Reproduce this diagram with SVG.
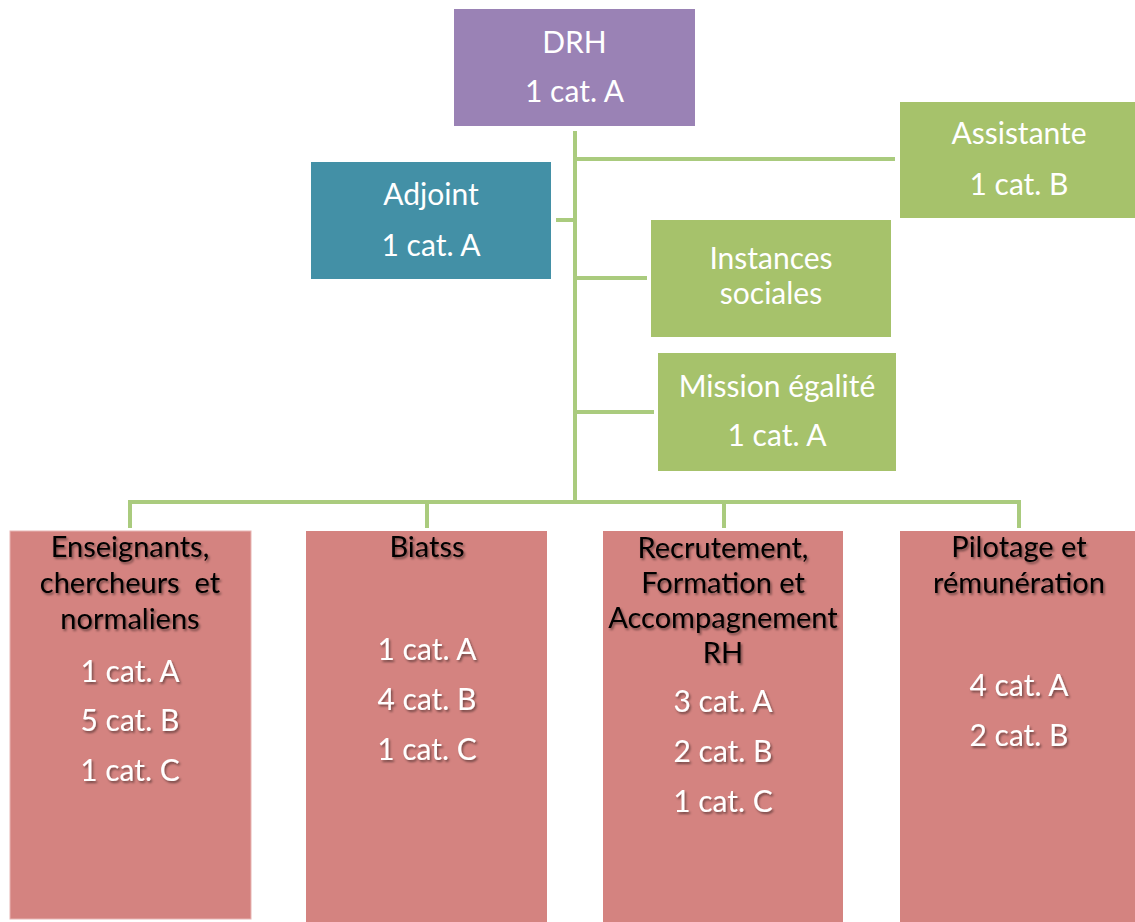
<svg xmlns="http://www.w3.org/2000/svg" width="1135" height="922" viewBox="0 0 1135 922">
<defs>
<filter id="sh" x="-10%" y="-30%" width="130%" height="170%">
<feDropShadow dx="1.5" dy="2" stdDeviation="1.2" flood-color="#000" flood-opacity="0.45"/>
</filter>
</defs>
<style>
text{font-family:"Lato","Open Sans","Liberation Sans",sans-serif;font-size:30px;text-anchor:middle}
.w{fill:#ffffff}
.b{fill:#000000;filter:url(#sh);font-size:29px}
.ws{fill:#ffffff;filter:url(#sh)}
.purple{fill:#9a82b5}
.teal{fill:#4390a6}
.green{fill:#a6c26b}
.red{fill:#d48380}
.conn{stroke:#aacb7e;stroke-width:4;fill:none}
</style>
<rect width="1135" height="922" fill="#ffffff"/>
<g id="connectors" class="conn">
<line x1="575" y1="131" x2="575" y2="504"/>
<line x1="575" y1="159" x2="895" y2="159"/>
<line x1="556" y1="220" x2="575" y2="220"/>
<line x1="575" y1="278" x2="647" y2="278"/>
<line x1="575" y1="412" x2="654" y2="412"/>
<polyline points="130,528 130,502 1019,502 1019,528"/>
<line x1="427" y1="502" x2="427" y2="528"/>
<line x1="724" y1="502" x2="724" y2="528"/>
</g>
<g id="drh">
<rect class="purple" x="454" y="9" width="241" height="117"/>
<text class="w" x="574.5" y="53">DRH</text>
<text class="w" x="574.5" y="102">1 cat. A</text>
</g>
<g id="adjoint">
<rect class="teal" x="311" y="162" width="240" height="117"/>
<text class="w" x="431" y="205">Adjoint</text>
<text class="w" x="431" y="256">1 cat. A</text>
</g>
<g id="assistante">
<rect class="green" x="900" y="102" width="235" height="116"/>
<text class="w" x="1019" y="144">Assistante</text>
<text class="w" x="1019" y="195">1 cat. B</text>
</g>
<g id="instances">
<rect class="green" x="651" y="220" width="240" height="117"/>
<text class="w" x="771" y="269">Instances</text>
<text class="w" x="771" y="304">sociales</text>
</g>
<g id="mission">
<rect class="green" x="658" y="353" width="238" height="118"/>
<text class="w" x="777" y="397">Mission égalité</text>
<text class="w" x="777" y="446">1 cat. A</text>
</g>
<g id="enseignants">
<rect class="red" x="10" y="531" width="241" height="388" stroke="#e8b5b3" stroke-width="1"/>
<text class="b" x="130" y="557">Enseignants,</text>
<text class="b" x="130" y="593" xml:space="preserve">chercheurs  et</text>
<text class="b" x="130" y="629">normaliens</text>
<text class="ws" x="130" y="682">1 cat. A</text>
<text class="ws" x="130" y="731">5 cat. B</text>
<text class="ws" x="130" y="781">1 cat. C</text>
</g>
<g id="biatss">
<rect class="red" x="306" y="531" width="241" height="391"/>
<text class="b" x="427" y="557">Biatss</text>
<text class="ws" x="427" y="660">1 cat. A</text>
<text class="ws" x="427" y="710">4 cat. B</text>
<text class="ws" x="427" y="760">1 cat. C</text>
</g>
<g id="recrutement">
<rect class="red" x="603" y="531" width="240" height="391"/>
<text class="b" x="723" y="558">Recrutement,</text>
<text class="b" x="723" y="593">Formation et</text>
<text class="b" x="723" y="628">Accompagnement</text>
<text class="b" x="723" y="663">RH</text>
<text class="ws" x="723" y="712">3 cat. A</text>
<text class="ws" x="723" y="762">2 cat. B</text>
<text class="ws" x="723" y="812">1 cat. C</text>
</g>
<g id="pilotage">
<rect class="red" x="900" y="531" width="235" height="391"/>
<text class="b" x="1019" y="557">Pilotage et</text>
<text class="b" x="1019" y="593">rémunération</text>
<text class="ws" x="1019" y="696">4 cat. A</text>
<text class="ws" x="1019" y="746">2 cat. B</text>
</g>
</svg>
